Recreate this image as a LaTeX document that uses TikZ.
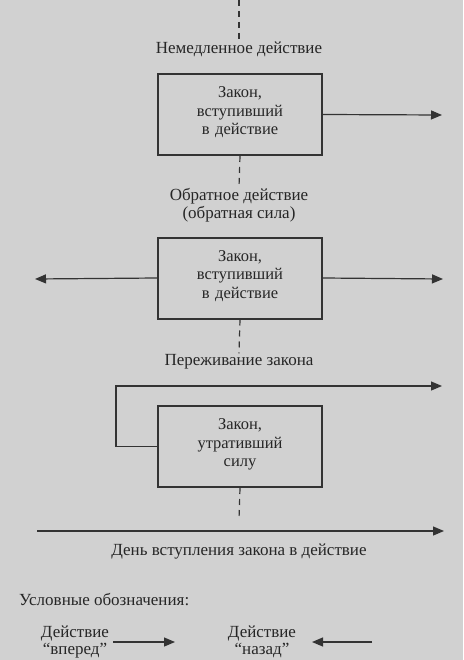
\documentclass[tikz,border=0pt]{standalone}
\usepackage{fontspec}
\setmainfont{Liberation Serif}
\usetikzlibrary{arrows.meta, positioning, calc}
\tikzset{
  law box/.style={
    rectangle, draw=black!80, line width=2pt,
    minimum width=164pt, minimum height=81pt,
    text width=160pt, align=center, text=black!85,
    font=\fontsize{16.5}{18.5}\selectfont, inner sep=0pt
  },
  law label/.style={
    font=\fontsize{17}{18}\selectfont, text=black!85,
    align=center, inner sep=1pt
  },
  law arrow/.style={
    -{Triangle[length=11pt,width=9pt]}, line width=1.2pt, draw=black!80
  },
  time line/.style={
    dash pattern=on 6pt off 5pt, line width=1.2pt, draw=black!80
  }
}
\begin{document}
\begin{tikzpicture}[x=1pt, y=-1pt]
  \fill[black!18] (0,0) rectangle (463,660);
  \useasboundingbox (0,0) rectangle (463,660);

  % boxes
  \node (b1) [law box] at (240,114.5) {Закон,\\вступивший\\в действие\vspace{4pt}};
  \node (b2) [law box] at (240,278) {Закон,\\вступивший\\в действие\vspace{4pt}};
  \node (b3) [law box] at (240,446.5) {Закон,\\утративший\\силу\vspace{4pt}};

  % labels
  \node (imm) [law label] at (239,49) {Немедленное действие};
  \node (retro) [law label] at (239,205) {Обратное действие\\(обратная сила)};
  \node (surv) [law label] at (239,362) {Переживание закона};
  \node (day) [law label] at (239,552) {День вступления закона в действие};
  \node (legend) [law label, anchor=west] at (18,600) {Условные обозначения:};
  \node (fwd) [law label, font=\fontsize{17}{17}\selectfont] at (75,642) {Действие\\“вперед”};
  \node (back) [law label, font=\fontsize{17}{17}\selectfont] at (262,642) {Действие\\“назад”};

  \coordinate (top) at (239,0);
  \coordinate (bottom) at (239,519);
  \coordinate (r1) at (442,115);
  \coordinate (l2) at (35,279);
  \coordinate (r2) at (443,279);
  \coordinate (turn) at (116,386);
  \coordinate (r3) at (442,386);
  \coordinate (d0) at (37,531);
  \coordinate (d1) at (444,531);

  % time line
  \draw [time line] (top) -- (imm.north);
  \draw [time line] (b1.south) -- (retro.north);
  \draw [time line] (b2.south) -- (surv.north);
  \draw [time line] (b3.south) -- (bottom);

  % actions
  \draw [law arrow] (b1.east) -- (r1);
  \draw [law arrow] (b2.west) -- (l2);
  \draw [law arrow] (b2.east) -- (r2);
  \draw [law arrow] (b3.west) -| (turn) -- (r3);
  \draw [law arrow] (d0) -- (d1);

  % legend
  \coordinate (fa) at (113,642);
  \coordinate (fb) at (175,642);
  \coordinate (ba) at (372,642);
  \coordinate (bb) at (312,642);
  \draw [law arrow] (fa) -- (fb);
  \draw [law arrow] (ba) -- (bb);
\end{tikzpicture}
\end{document}
